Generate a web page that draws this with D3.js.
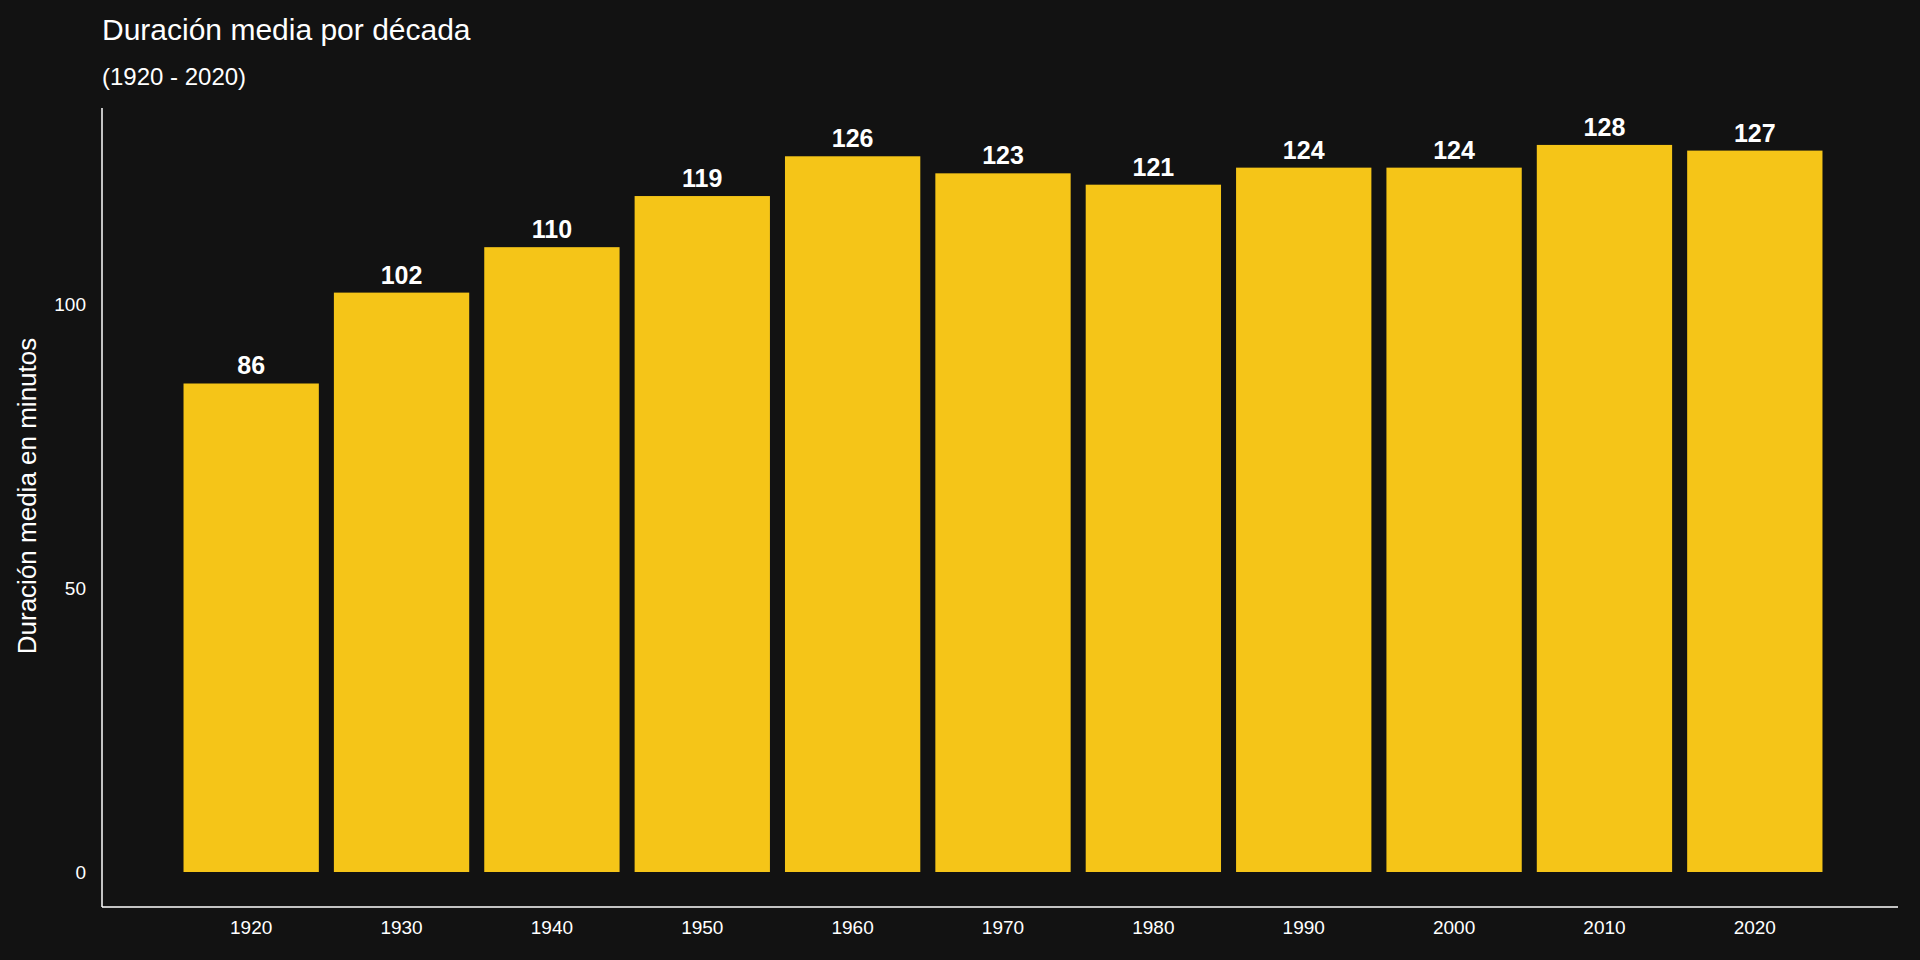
<html>
<script src="https://d3js.org/d3.v7.min.js"></script>
<body style="margin:0;background:#121212">
<svg width=1920 height=960></svg>
<script>
var decades = ["1920","1930","1940","1950","1960","1970","1980","1990","2000","2010","2020"];
var duracion = [86,102,110,119,126,123,121,124,124,128,127];
var yTicks = [0,50,100];

var svg = d3.select("svg").style("font-family","'Liberation Sans', Arial, sans-serif");
svg.append("rect").attr("width",1920).attr("height",960).attr("fill","#121212");

var x = d3.scaleBand().domain(decades).range([176,1830]).paddingInner(0.1).paddingOuter(0.05);
var y = d3.scaleLinear().domain([0,134.5]).range([872,108]);

svg.selectAll("rect.bar").data(decades).enter().append("rect")
    .attr("class","bar")
    .attr("x", function(d){ return x(d); })
    .attr("width", x.bandwidth())
    .attr("y", function(d,i){ return y(duracion[i]); })
    .attr("height", function(d,i){ return y(0) - y(duracion[i]); })
    .attr("fill","#F5C518");

svg.selectAll("text.val").data(decades).enter().append("text")
    .attr("x", function(d){ return x(d) + x.bandwidth()/2; })
    .attr("y", function(d,i){ return y(duracion[i]) - 9; })
    .attr("text-anchor","middle")
    .attr("fill","white").attr("font-weight","bold").attr("font-size",25)
    .text(function(d,i){ return duracion[i]; });

// axes lines
svg.append("line").attr("x1",102).attr("x2",102).attr("y1",108).attr("y2",907).attr("stroke","white").attr("stroke-width",1.5);
svg.append("line").attr("x1",102).attr("x2",1898).attr("y1",907).attr("y2",907).attr("stroke","white").attr("stroke-width",1.5);

svg.selectAll("text.yt").data(yTicks).enter().append("text")
    .attr("x",86).attr("y", function(d){ return y(d); }).attr("dy","0.35em")
    .attr("text-anchor","end").attr("fill","white").attr("font-size",19)
    .text(function(d){ return d; });

svg.selectAll("text.xt").data(decades).enter().append("text")
    .attr("x", function(d){ return x(d) + x.bandwidth()/2; }).attr("y",905 + 29)
    .attr("text-anchor","middle").attr("fill","white").attr("font-size",19)
    .text(function(d){ return d; });

svg.append("text").attr("transform","translate(36,496) rotate(-90)")
    .attr("text-anchor","middle").attr("fill","white").attr("font-size",26)
    .text("Duración media en minutos");

svg.append("text").attr("x",102).attr("y",40).attr("fill","white").attr("font-size",30)
    .text("Duración media por década");
svg.append("text").attr("x",102).attr("y",85).attr("fill","white").attr("font-size",24)
    .text("(1920 - 2020)");
</script>
</body>
</html>
